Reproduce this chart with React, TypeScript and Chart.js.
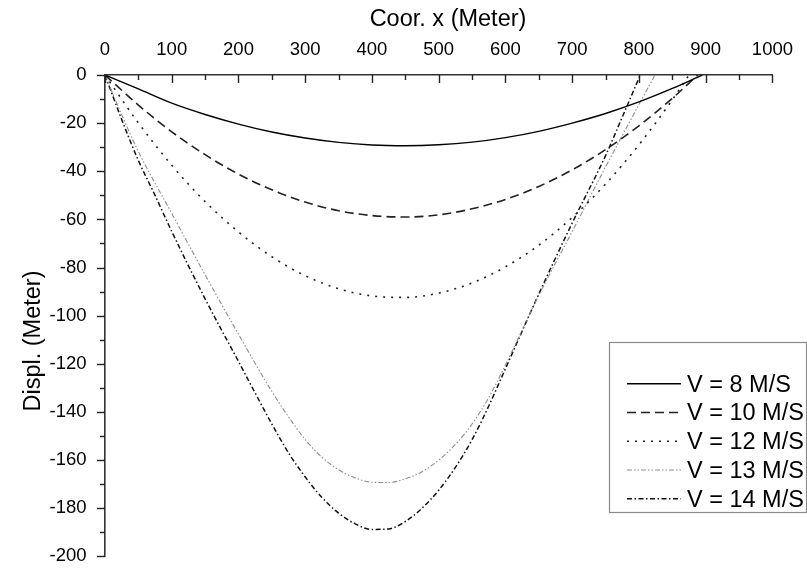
import React, { useEffect, useRef } from "react";
import { Chart, registerables } from "chart.js";

Chart.register(...registerables);

// ---- data ----
const seriesLabels = ["V = 8 M/S", "V = 10 M/S", "V = 12 M/S", "V = 13 M/S", "V = 14 M/S"];

const v8X = [0, 50, 100, 150, 200, 250, 300, 350, 400, 450, 500, 550, 600, 650, 700, 750, 800, 850, 895];
const v8Y = [0, -5.8, -11.7, -16.4, -20.4, -23.7, -26.2, -28.0, -29.1, -29.4, -29.0, -27.9, -26.0, -23.4, -20.0, -16.0, -11.2, -5.6, 0];

const v10X = [0, 50, 100, 150, 200, 250, 300, 350, 400, 450, 500, 550, 600, 650, 700, 750, 800, 850, 888];
const v10Y = [0, -12.5, -23.6, -33.1, -41.2, -47.7, -52.8, -56.4, -58.4, -59.0, -58.1, -55.6, -51.7, -46.3, -39.4, -31.0, -21.1, -9.7, 0];

const v12X = [0, 50, 100, 150, 200, 250, 300, 350, 400, 450, 500, 550, 600, 650, 700, 750, 800, 850, 875];
const v12Y = [0, -19.9, -37.5, -52.6, -65.2, -75.5, -83.4, -88.8, -91.8, -92.4, -90.6, -86.4, -79.7, -70.7, -59.2, -45.3, -29.0, -10.3, 0];

const v13X = [0, 25, 50, 100, 150, 200, 250, 275, 300, 325, 350, 375, 400, 425, 450, 475, 500, 525, 550, 575, 600, 650, 700, 750, 800, 824];
const v13Y = [0, -16.5, -31.8, -57.5, -83, -107.7, -131.5, -142, -151.5, -158.8, -164, -167.4, -169.2, -169.3, -167.8, -164.8, -160, -153.5, -145, -134, -120.5, -91.5, -65, -38.2, -12.3, 0];

const v14X = [0, 25, 50, 75, 100, 150, 200, 250, 275, 300, 325, 350, 375, 400, 425, 450, 475, 500, 525, 550, 575, 600, 650, 700, 750, 775, 802];
const v14Y = [0, -18.5, -35.5, -50, -65, -93, -119, -145, -157, -167, -175.5, -182, -186.5, -188.8, -188.6, -185.5, -180, -172.5, -163, -151.5, -137.5, -122, -91, -61.5, -33.5, -17.5, 0];

const xTickValues = [0, 100, 200, 300, 400, 500, 600, 700, 800, 900, 1000];
const yTickValues = [0, -20, -40, -60, -80, -100, -120, -140, -160, -180, -200];
const xTitle = "Coor. x (Meter)";
const yTitle = "Displ. (Meter)";

const FONT = "'Liberation Sans', Arial, sans-serif";

function pts(xs: number[], ys: number[]) {
  return xs.map((x, i) => ({ x, y: ys[i] }));
}

const decorPlugin = {
  id: "decor",
  afterDraw(chart: any) {
    const ctx = chart.ctx as CanvasRenderingContext2D;
    const xs = chart.scales.x;
    const ys = chart.scales.y;
    const area = chart.chartArea;
    ctx.save();
    ctx.strokeStyle = "#222";
    ctx.lineWidth = 1.4;
    for (let v = 0; v <= 1000; v += 50) {
      const px = Math.round(xs.getPixelForValue(v)) + 0.5;
      const len = v % 100 === 0 ? 8 : 5;
      ctx.beginPath();
      ctx.moveTo(px, area.top);
      ctx.lineTo(px, area.top + len);
      ctx.stroke();
    }
    for (let v = -200; v <= 0; v += 10) {
      const py = Math.round(ys.getPixelForValue(v)) + 0.5;
      const len = v % 20 === 0 ? 8 : 5;
      ctx.beginPath();
      ctx.moveTo(area.left - len, py);
      ctx.lineTo(area.left, py);
      ctx.stroke();
    }
    ctx.fillStyle = "#000";
    ctx.font = `23.5px ${FONT}`;
    ctx.textAlign = "center";
    ctx.textBaseline = "alphabetic";
    ctx.fillText(xTitle, 448, 26);
    ctx.save();
    ctx.translate(32, 341);
    ctx.rotate(-Math.PI / 2);
    ctx.fillText(yTitle, 0, 8.4);
    ctx.restore();

    ctx.strokeStyle = "#8a8a8a";
    ctx.lineWidth = 1.2;
    ctx.fillStyle = "#fff";
    ctx.fillRect(609.5, 342.5, 197, 170);
    ctx.strokeRect(609.5, 342.5, 197, 170);
    ctx.font = `23.5px ${FONT}`;
    ctx.textAlign = "left";
    chart.data.datasets.forEach((ds: any, i: number) => {
      const cy = 383.3 + i * 28.75;
      ctx.save();
      ctx.strokeStyle = ds.borderColor;
      ctx.lineWidth = ds.borderWidth;
      ctx.setLineDash(ds.borderDash || []);
      ctx.beginPath();
      ctx.moveTo(627, cy + 0.5);
      ctx.lineTo(681, cy + 0.5);
      ctx.stroke();
      ctx.restore();
      ctx.fillStyle = "#000";
      ctx.fillText(ds.label, 687, cy + 8.4);
    });
    ctx.restore();
  },
};

export default function App() {
  const ref = useRef<HTMLCanvasElement | null>(null);
  useEffect(() => {
    document.body.style.margin = "0";
    if (!ref.current) return;
    const styles = [
      { color: "#000", width: 1.4, dash: [] as number[] },
      { color: "#222", width: 1.6, dash: [9, 5] },
      { color: "#222", width: 1.6, dash: [2, 6] },
      { color: "#8c8c8c", width: 1.1, dash: [5, 2, 1.5, 2, 1.5, 2] },
      { color: "#111", width: 1.5, dash: [5, 2.5, 1.5, 2.5] },
    ];
    const seriesData = [pts(v8X, v8Y), pts(v10X, v10Y), pts(v12X, v12Y), pts(v13X, v13Y), pts(v14X, v14Y)];
    const chart = new Chart(ref.current, {
      type: "line",
      data: {
        datasets: seriesData.map((d, i) => ({
          label: seriesLabels[i],
          data: d,
          borderColor: styles[i].color,
          borderWidth: styles[i].width,
          borderDash: styles[i].dash,
          pointRadius: 0,
          cubicInterpolationMode: "monotone",
          fill: false,
        })),
      },
      options: {
        animation: false,
        responsive: false,
        devicePixelRatio: 1,
        layout: { padding: { left: 0, top: 0, right: 30, bottom: 23 } },
        plugins: { legend: { display: false }, tooltip: { enabled: false } },
        scales: {
          x: {
            type: "linear",
            position: "top",
            min: 0,
            max: 1000,
            afterBuildTicks: (s: any) => {
              s.ticks = xTickValues.map((v) => ({ value: v }));
            },
            afterFit: (s: any) => {
              s.height = 75;
            },
            ticks: {
              color: "#000",
              font: { family: FONT, size: 18.5 },
              padding: 14,
              maxRotation: 0,
              autoSkip: false,
              callback: (v: any) => String(v),
            },
            grid: { display: false, drawTicks: false },
            border: { display: true, color: "#333", width: 1.6 },
            title: { display: false },
          },
          y: {
            type: "linear",
            min: -200,
            max: 0,
            afterBuildTicks: (s: any) => {
              s.ticks = yTickValues.map((v) => ({ value: v }));
            },
            afterFit: (s: any) => {
              s.width = 105;
            },
            ticks: {
              color: "#000",
              font: { family: FONT, size: 18.5 },
              padding: 18.5,
              autoSkip: false,
              callback: (v: any) => String(v),
            },
            grid: { display: false, drawTicks: false },
            border: { display: true, color: "#333", width: 1.6 },
            title: { display: false },
          },
        },
      },
      plugins: [decorPlugin],
    });
    return () => chart.destroy();
  }, []);
  return (
    <div style={{ width: 807, height: 586, background: "#fff" }}>
      <canvas ref={ref} width={807} height={586} style={{ display: "block" }} />
    </div>
  );
}
